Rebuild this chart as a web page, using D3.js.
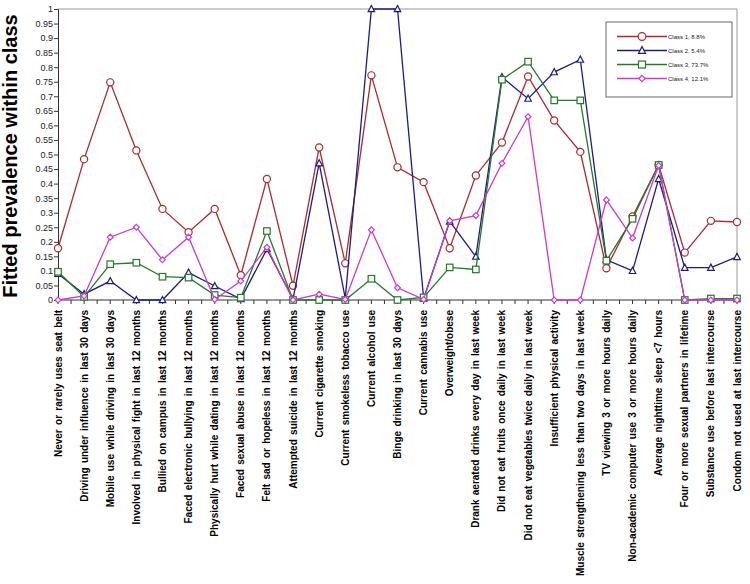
<!DOCTYPE html>
<html>
<head>
    <meta charset="utf-8">
    <script src="https://cdn.jsdelivr.net/npm/d3@7"></script>
    <style>
        body { margin: 0; background: #fff; }
        text { font-family: Arial, "Liberation Sans", sans-serif; }
    </style>
</head>
<body>
    <script>
        var categories = [
            'Never or rarely uses seat belt',
            'Driving under influence in last 30 days',
            'Mobile use while driving in last 30 days',
            'Involved in physical fight in last 12 months',
            'Bullied on campus in last 12 months',
            'Faced electronic bullying in last 12 months',
            'Physically hurt while dating in last 12 months',
            'Faced sexual abuse in last 12 months',
            'Felt sad or hopeless in last 12 months',
            'Attempted suicide in last 12 months',
            'Current cigarette smoking',
            'Current smokeless tobacco use',
            'Current alcohol use',
            'Binge drinking in last 30 days',
            'Current cannabis use',
            'Overweight/obese',
            'Drank aerated drinks every day in last week',
            'Did not eat fruits once daily in last week',
            'Did not eat vegetables twice daily in last week',
            'Insufficient physical activity',
            'Muscle strengthening less than two days in last week',
            'TV viewing 3 or more hours daily',
            'Non-academic computer use 3 or more hours daily',
            'Average nighttime sleep <7 hours',
            'Four or more sexual partners in lifetime',
            'Substance use before last intercourse',
            'Condom not used at last intercourse'
        ];

        var class1 = [0.178, 0.484, 0.748, 0.514, 0.313, 0.233, 0.313, 0.085, 0.416, 0.049,
                      0.524, 0.126, 0.772, 0.456, 0.405, 0.178, 0.428, 0.541, 0.768, 0.617,
                      0.509, 0.109, 0.287, 0.464, 0.163, 0.272, 0.268];
        var class2 = [0.09, 0.02, 0.065, 0, 0, 0.094, 0.048, 0.003, 0.175, 0.003,
                      0.47, 0.006, 1.0, 1.0, 0.005, 0.27, 0.149, 0.766, 0.692, 0.783,
                      0.826, 0.138, 0.1, 0.416, 0.111, 0.111, 0.148];
        var class3 = [0.097, 0.011, 0.123, 0.128, 0.08, 0.077, 0.017, 0.008, 0.237, 0,
                      0, 0, 0.073, 0, 0.009, 0.112, 0.105, 0.757, 0.819, 0.686,
                      0.686, 0.135, 0.279, 0.464, 0, 0.005, 0.005];
        var class4 = [0, 0.014, 0.216, 0.25, 0.138, 0.216, 0.002, 0.065, 0.181, 0,
                      0.02, 0.002, 0.241, 0.042, 0.002, 0.272, 0.29, 0.47, 0.63, 0,
                      0, 0.344, 0.213, 0.462, 0, 0, 0];

        var seriesNames = ['Class 1, 8.8%', 'Class 2, 5.4%', 'Class 3, 73.7%', 'Class 4, 12.1%'];
        var yTicks = d3.range(0, 21).map(function (i) { return i * 0.05; });

        var series = [
            { name: seriesNames[0], values: class1, color: '#aa2a2e', shape: 'circle' },
            { name: seriesNames[1], values: class2, color: '#1c1c84', shape: 'triangle' },
            { name: seriesNames[2], values: class3, color: '#25792a', shape: 'square' },
            { name: seriesNames[3], values: class4, color: '#cc3acc', shape: 'diamond' }
        ];

        var W = 750, H = 584;
        var plotL = 58, plotR = 737, plotT = 9, plotB = 300;

        var svg = d3.select('body').append('svg')
            .attr('width', W).attr('height', H);

        var x = d3.scalePoint().domain(d3.range(categories.length)).range([plotL, plotR]);
        var y = d3.scaleLinear().domain([0, 1]).range([plotB, plotT]);
        var step = x.step();

        // frame (top & right in grey)
        svg.append('line').attr('x1', plotL).attr('x2', plotR).attr('y1', plotT).attr('y2', plotT)
            .attr('stroke', '#999').attr('stroke-width', 1);
        svg.append('line').attr('x1', plotR).attr('x2', plotR).attr('y1', plotT).attr('y2', plotB)
            .attr('stroke', '#999').attr('stroke-width', 1);

        // y axis
        var yAxis = d3.axisLeft(y).tickValues(yTicks).tickSize(4).tickPadding(1)
            .tickFormat(function (d) { return d3.format('~g')(+d.toFixed(2)); });
        var gy = svg.append('g').attr('transform', 'translate(' + plotL + ',0)').call(yAxis);
        gy.select('.domain').attr('stroke', '#333');
        gy.selectAll('.tick line').attr('stroke', '#333');
        gy.selectAll('.tick text').attr('font-size', 9).attr('fill', '#222')
            .attr('font-family', 'Arial, "Liberation Sans", sans-serif');

        // x axis line and ticks (also at half steps)
        svg.append('line').attr('x1', plotL).attr('x2', plotR).attr('y1', plotB).attr('y2', plotB)
            .attr('stroke', '#333');
        var halfTicks = d3.range(categories.length * 2 - 1).map(function (i) { return plotL + i * step / 2; });
        svg.append('g').selectAll('line').data(halfTicks).enter().append('line')
            .attr('x1', function (d) { return d; }).attr('x2', function (d) { return d; })
            .attr('y1', plotB).attr('y2', plotB + 4)
            .attr('stroke', '#333');

        // category labels
        svg.append('g').selectAll('text').data(categories).enter().append('text')
            .attr('transform', function (d, i) { return 'translate(' + x(i) + ',' + (plotB + 10) + ') rotate(-90)'; })
            .attr('text-anchor', 'end')
            .attr('dy', '0.35em')
            .attr('font-size', 10)
            .attr('font-weight', 'bold')
            .attr('word-spacing', 1.5)
            .attr('fill', '#000')
            .text(function (d) { return d; });

        // y title
        svg.append('text')
            .attr('transform', 'translate(17,156) rotate(-90)')
            .attr('text-anchor', 'middle')
            .attr('font-size', 20)
            .attr('font-weight', 'bold')
            .text('Fitted prevalence within class');

        function marker(sel, shape, color, size) {
            var s = size;
            if (shape === 'circle') {
                sel.append('circle').attr('r', s * 0.55);
            } else if (shape === 'square') {
                sel.append('rect').attr('x', -s / 2).attr('y', -s / 2).attr('width', s).attr('height', s);
            } else if (shape === 'triangle') {
                sel.append('path').attr('d', 'M0,' + (-s * 0.55) + 'L' + (s * 0.5) + ',' + (s * 0.4) + 'L' + (-s * 0.5) + ',' + (s * 0.4) + 'Z');
            } else {
                sel.append('path').attr('d', 'M0,' + (-s * 0.45) + 'L' + (s * 0.45) + ',0L0,' + (s * 0.45) + 'L' + (-s * 0.45) + ',0Z');
            }
            sel.selectAll('circle,rect,path').attr('fill', '#fff').attr('stroke', color).attr('stroke-width', 1.2);
        }

        var line = d3.line().x(function (d, i) { return x(i); }).y(function (d) { return y(d); });

        series.forEach(function (s) {
            var g = svg.append('g');
            g.append('path').datum(s.values).attr('d', line)
                .attr('fill', 'none').attr('stroke', s.color).attr('stroke-width', 1.3);
            g.selectAll('g.pt').data(s.values).enter().append('g')
                .attr('transform', function (d, i) { return 'translate(' + x(i) + ',' + y(d) + ')'; })
                .each(function () { marker(d3.select(this), s.shape, s.color, 6.5); });
        });

        // legend
        var lg = svg.append('g').attr('transform', 'translate(606,22)');
        lg.append('rect').attr('width', 126).attr('height', 75)
            .attr('fill', '#fff').attr('stroke', '#666').attr('stroke-width', 1);
        series.forEach(function (s, i) {
            var rowY = 14.5 + i * 14;
            var row = lg.append('g').attr('transform', 'translate(0,' + rowY + ')');
            row.append('line').attr('x1', 11).attr('x2', 61).attr('y1', 0).attr('y2', 0)
                .attr('stroke', s.color).attr('stroke-width', 1.3);
            var m = row.append('g').attr('transform', 'translate(36,0)');
            marker(m, s.shape, s.color, 7);
            row.append('text').attr('x', 62).attr('y', 0).attr('dy', '0.35em')
                .attr('font-size', 6).attr('fill', '#222').text(s.name);
        });
    </script>
</body>
</html>
